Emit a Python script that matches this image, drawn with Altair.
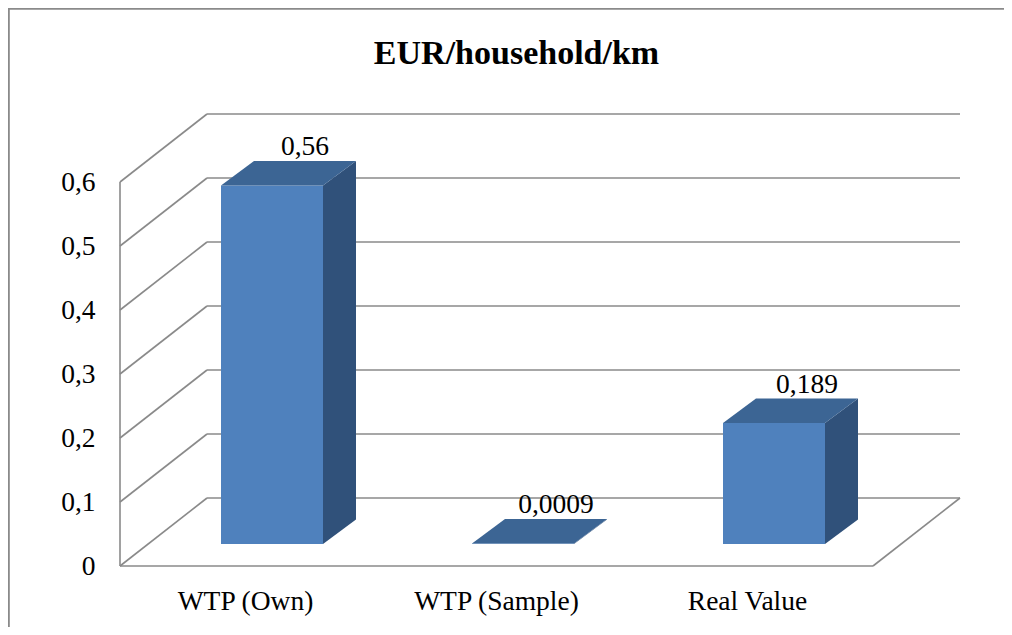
import altair as alt
import pandas as pd

# ---- data -------------------------------------------------------------
categories = ["WTP (Own)", "WTP (Sample)", "Real Value"]
values = [0.56, 0.0009, 0.189]
y_ticks = [0, 0.1, 0.2, 0.3, 0.4, 0.5, 0.6]
title_text = "EUR/household/km"

# ---- geometry (style constants for the pseudo 3D look) -----------------
W, H = 840, 452
PX_X, PX_Y = 251.0, 640.0          # pixels per x unit / per y unit
XDOM = W / PX_X
YDOM = H / PX_Y
DXW, DYW = 87 / PX_X, 68 / PX_Y    # wall depth
SX, SY = 26.5 / PX_X, 22 / PX_Y    # bar front-face depth shift
HW = 51 / PX_X                     # bar half width
BDX, BDY = 33 / PX_X, 24.5 / PX_Y  # bar depth

FONT = "Liberation Serif"
GRID = "#8a8a8a"
FRONT, TOP, SIDE = "#4f81bd", "#3c6594", "#30517a"

xs = alt.Scale(domain=[0, XDOM], nice=False, zero=False)
ys = alt.Scale(domain=[0, YDOM], nice=False, zero=False)

# ---- derived tables ---------------------------------------------------
bars = pd.DataFrame({"name": categories, "value": values})
bars["c"] = [i + 0.5 for i in range(len(categories))]
bars["xl"] = bars["c"] - HW + SX
bars["xr"] = bars["c"] + HW + SX
bars["y0"] = SY
bars["y1"] = bars["value"] + SY
bars["lx"] = bars["c"] + SX + BDX
bars["ly"] = bars["value"] + SY + BDY

side_rows, top_rows = [], []
for name, v, xl, xr in zip(bars["name"], bars["value"], bars["xl"], bars["xr"]):
    side_rows.append({"name": name, "x": xr, "ylo": SY, "yhi": v + SY})
    side_rows.append({"name": name, "x": xr + BDX, "ylo": SY + BDY, "yhi": v + SY + BDY})
    top_rows.append({"name": name, "y": v + SY, "xa": xl, "xb": xr})
    top_rows.append({"name": name, "y": v + SY + BDY, "xa": xl + BDX, "xb": xr + BDX})
side = pd.DataFrame(side_rows)
top = pd.DataFrame(top_rows)

n = len(categories)
back = pd.DataFrame({"y": [v + DYW for v in y_ticks], "x": DXW, "x2": XDOM})
left = pd.DataFrame({"y": y_ticks, "x": 0.0, "x2": DXW, "y2": [v + DYW for v in y_ticks]})
edges = pd.DataFrame({
    "x":  [0.0, float(n), 0.0],
    "y":  [0.0, 0.0, 0.0],
    "x2": [float(n), n + DXW, 0.0],
    "y2": [0.0, DYW, max(y_ticks)],
})

y_axis = alt.Axis(values=y_ticks, domain=False, ticks=False, tickSize=0,
                  grid=False, labelPadding=25, labelFont=FONT,
                  labelFontSize=27.5, labelColor="#000000",
                  labelExpr="datum.value == 0 ? '0' : replace(format(datum.value, '.1f'), '.', ',')")

# ---- layers -----------------------------------------------------------
left_lines = alt.Chart(left).mark_rule(color=GRID, strokeWidth=1.6).encode(
    x=alt.X("x:Q", scale=xs, axis=None), x2="x2:Q",
    y=alt.Y("y:Q", scale=ys, title=None, axis=y_axis),
    y2="y2:Q")

back_lines = alt.Chart(back).mark_rule(color=GRID, strokeWidth=1.6).encode(
    x=alt.X("x:Q", scale=xs, axis=None), x2="x2:Q",
    y=alt.Y("y:Q", scale=ys, title=None, axis=y_axis))

edge_lines = alt.Chart(edges).mark_rule(color=GRID, strokeWidth=1.6).encode(
    x=alt.X("x:Q", scale=xs, axis=None), x2="x2:Q",
    y=alt.Y("y:Q", scale=ys, title=None, axis=y_axis), y2="y2:Q")

front_face = alt.Chart(bars).mark_rect(color=FRONT).encode(
    x=alt.X("xl:Q", scale=xs, axis=None), x2="xr:Q",
    y=alt.Y("y0:Q", scale=ys, title=None, axis=y_axis), y2="y1:Q")

side_face = alt.Chart(side).mark_area(color=SIDE, orient="vertical").encode(
    x=alt.X("x:Q", scale=xs, axis=None),
    y=alt.Y("ylo:Q", scale=ys, title=None, axis=y_axis, stack=None), y2="yhi:Q",
    detail="name:N")

top_face = alt.Chart(top).mark_area(color=TOP, orient="horizontal").encode(
    y=alt.Y("y:Q", scale=ys, title=None, axis=y_axis),
    x=alt.X("xa:Q", scale=xs, axis=None, stack=None), x2="xb:Q",
    detail="name:N")

value_labels = alt.Chart(bars).transform_calculate(
    label="replace(toString(datum.value), '.', ',')"
).mark_text(font=FONT, fontSize=27.5, color="#000000", baseline="alphabetic",
            align="center", dy=-6).encode(
    x=alt.X("lx:Q", scale=xs, axis=None),
    y=alt.Y("ly:Q", scale=ys, title=None, axis=y_axis),
    text="label:N")

cat_labels = alt.Chart(bars).mark_text(font=FONT, fontSize=27.5, color="#000000",
                                       baseline="alphabetic", align="center").encode(
    x=alt.X("c:Q", scale=xs, axis=None),
    y=alt.value(H + 44),
    text="name:N")

one = pd.DataFrame({"a": [0]})
title = alt.Chart(one).mark_text(text=title_text, font=FONT, fontSize=34,
                                 fontWeight="bold", color="#000000",
                                 baseline="alphabetic", align="center").encode(
    x=alt.value(516.5 - 120), y=alt.value(64 - 114))

frame_left = alt.Chart(one).mark_rule(color="#8a8a8a", strokeWidth=2.2).encode(
    x=alt.value(-111.3), y=alt.value(-106), y2=alt.value(H + 61))
frame_top = alt.Chart(one).mark_rule(color="#8a8a8a", strokeWidth=2.2).encode(
    y=alt.value(-105.3), x=alt.value(-112), x2=alt.value(W + 44))

chart = alt.layer(
    left_lines, back_lines, edge_lines,
    front_face, side_face, top_face,
    value_labels, cat_labels, title,
    frame_left, frame_top,
).properties(
    width=W, height=H,
    autosize=alt.AutoSizeParams(type="none"),
    padding={"left": 112, "top": 106, "right": 44, "bottom": 61},
).configure_view(stroke=None)

chart.save("out.html", embed_options={"renderer": "svg", "actions": False})
